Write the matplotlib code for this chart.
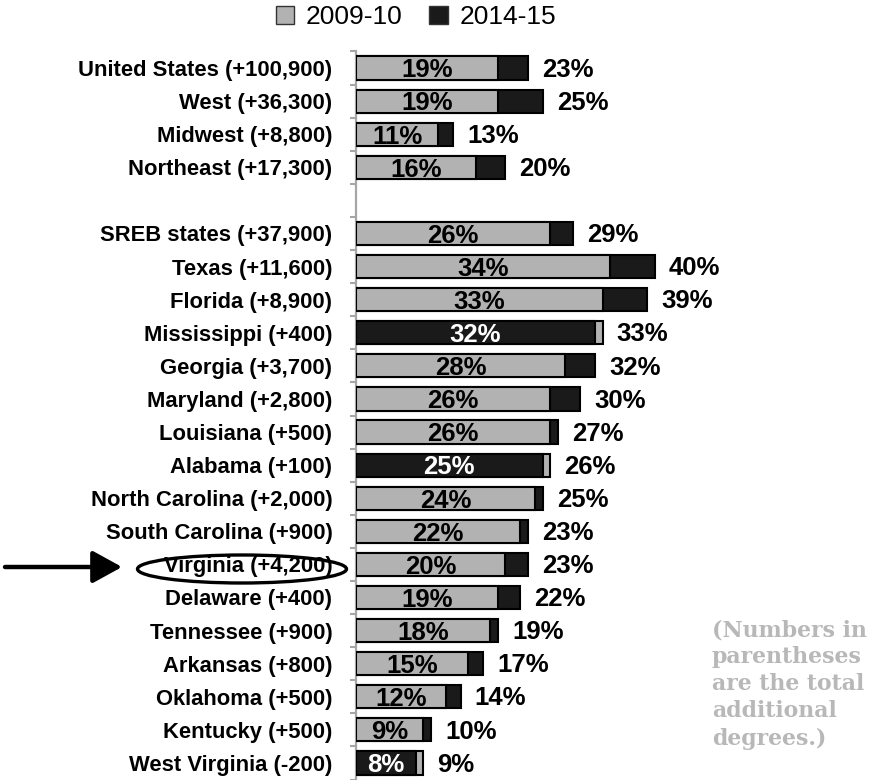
import numpy as np
import matplotlib
matplotlib.use("Agg")
import matplotlib.pyplot as plt
from matplotlib.patches import Patch, Ellipse, ArrowStyle

plt.rcParams['font.family'] = ['Liberation Sans', 'DejaVu Sans']

# data
categories = [
    "United States (+100,900)", "West (+36,300)", "Midwest (+8,800)",
    "Northeast (+17,300)", "",
    "SREB states (+37,900)", "Texas (+11,600)", "Florida (+8,900)",
    "Mississippi (+400)", "Georgia (+3,700)", "Maryland (+2,800)",
    "Louisiana (+500)", "Alabama (+100)", "North Carolina (+2,000)",
    "South Carolina (+900)", "Virginia (+4,200)", "Delaware (+400)",
    "Tennessee (+900)", "Arkansas (+800)", "Oklahoma (+500)",
    "Kentucky (+500)", "West Virginia (-200)",
]
share_0910 = [19, 19, 11, 16, np.nan, 26, 34, 33, 32, 28, 26, 26, 25, 24, 22,
              20, 19, 18, 15, 12, 9, 8]
share_1415 = [23, 25, 13, 20, np.nan, 29, 40, 39, 33, 32, 30, 27, 26, 25, 23,
              23, 22, 19, 17, 14, 10, 9]
# rows where the chart shows the colours the other way round
swapped = ["Mississippi (+400)", "Alabama (+100)", "West Virginia (-200)"]
legend_labels = ["2009-10", "2014-15"]

gray = "#b2b2b2"
dark = "#1a1a1a"

W, H = 869, 780
fig = plt.figure(figsize=(W / 100, H / 100), dpi=100)
ax = fig.add_axes([356 / W, 0.5 / H, 513 / W, 728 / H])

n = len(categories)
for i, (cat, v1, v2) in enumerate(zip(categories, share_0910, share_1415)):
    if np.isnan(v1):
        continue
    flip = cat in swapped
    back = gray if flip else dark
    front = dark if flip else gray
    ax.barh(i, v2, height=0.7, color=back, edgecolor="black", linewidth=1.5, zorder=2)
    ax.barh(i, v1, height=0.7, color=front, edgecolor="black", linewidth=1.5, zorder=3)
    ax.text(v1 / 2, i + 0.07, f"{v1:.0f}%", ha="center", va="center",
            fontsize=18.5, fontweight="bold", color="white" if flip else "black", zorder=4)
    ax.text(v2 + 1.9, i + 0.05, f"{v2:.0f}%", ha="left", va="center",
            fontsize=18.5, fontweight="bold", color="black", zorder=4)

ax.set_xlim(0, 513 / 7.47)
ax.set_ylim(n - 0.5, -0.5)

ax.set_yticks(range(n))
ax.set_yticklabels(categories, fontsize=15.8, fontweight="bold")
ax.tick_params(axis="y", which="major", length=0, pad=17)
ax.set_yticks(np.arange(-0.5, n, 1.0), minor=True)
ax.tick_params(axis="y", which="minor", length=4, width=1.5, color="#a6a6a6")
ax.set_xticks([])
for side in ["top", "right", "bottom"]:
    ax.spines[side].set_visible(False)
ax.spines["left"].set_color("#a6a6a6")
ax.spines["left"].set_linewidth(1.6)
ax.patch.set_alpha(0)

# legend
handles = [Patch(facecolor=gray, edgecolor="#333333", linewidth=1),
           Patch(facecolor=dark, edgecolor="#333333", linewidth=1)]
fig.legend(handles, legend_labels, loc="center", bbox_to_anchor=(416 / W, 1 - 17 / H),
           ncol=2, frameon=False, fontsize=19, handlelength=0.7, handleheight=0.7,
           handletextpad=0.45, columnspacing=1.0, borderaxespad=0, borderpad=0)

# annotation overlay: circle and arrow on Virginia, side note
ov = fig.add_axes([0, 0, 1, 1])
ov.set_xlim(0, W)
ov.set_ylim(H, 0)
ov.axis("off")
ov.add_patch(Ellipse((242, 569), 209, 28, fill=False, edgecolor="black", linewidth=2.4))
ov.annotate("", xy=(122, 567), xytext=(5, 567),
            arrowprops=dict(arrowstyle=ArrowStyle("-|>", head_length=1.0, head_width=0.55),
                            mutation_scale=18, lw=3.2, color="black",
                            shrinkA=0, shrinkB=0))

fig.text(712 / W, 1 - 619 / H,
         "(Numbers in\nparentheses\nare the total\nadditional\ndegrees.)",
         ha="left", va="top", fontsize=15.8, fontweight="bold", color="#b8b8b8",
         family="DejaVu Serif", linespacing=1.3)

fig.savefig("out.png", dpi=100)
